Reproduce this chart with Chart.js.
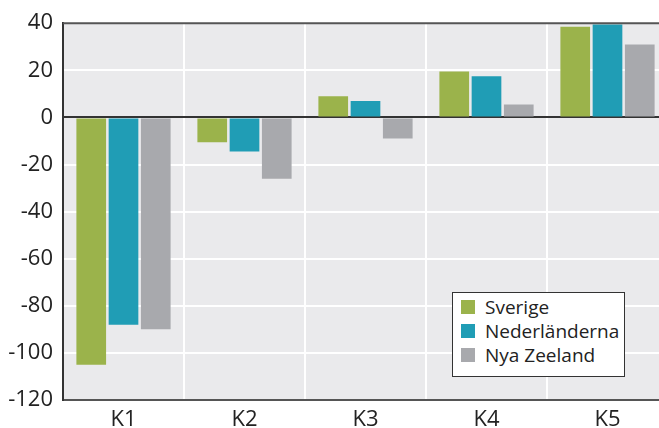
<!DOCTYPE html>
<html>
<head>
<meta charset="utf-8">
<script src="https://cdn.jsdelivr.net/npm/chart.js@4"></script>
<style>
html, body { margin: 0; padding: 0; background: #fff; overflow: hidden; }
#wrap { position: relative; width: 668px; height: 428px; }
#legend {
    position: absolute; left: 452px; top: 292px; width: 171px; height: 81px;
    border: 1px solid #333; background: #fff; box-sizing: content-box;
    font-family: "Open Sans", sans-serif; font-size: 19px; color: #222;
    padding-top: 2px;
}
.item { height: 24px; line-height: 24px; position: relative; padding-left: 32px; }
.item span { position: absolute; left: 8px; top: 5px; width: 14px; height: 14px; }
</style>
</head>
<body>
<div id="wrap">
<canvas id="myChart" width="668" height="428"></canvas>
<div id="legend"></div>
</div>
<script>
// data
const categories = ["K1", "K2", "K3", "K4", "K5"];
const seriesNames = ["Sverige", "Nederländerna", "Nya Zeeland"];
const sverige = [-105, -10.5, 9, 19.5, 38.5];
const nederlanderna = [-88, -14.5, 7, 17.5, 39.5];
const nyaZeeland = [-90, -26, -9, 5.5, 31];
const yTicks = [40, 20, 0, -20, -40, -60, -80, -100, -120];
const colors = ["#9bb34b", "#209db5", "#a8a9ad"];

const dark = "#333";

// grey plot background + top border line
const plotBg = {
    id: "plotBg",
    beforeDraw: (chart) => {
        const a = chart.chartArea;
        const ctx = chart.ctx;
        ctx.save();
        ctx.fillStyle = "#eaeaec";
        ctx.fillRect(a.left, a.top, a.right - a.left, a.bottom - a.top);
        ctx.restore();
    },
    afterDraw: (chart) => {
        const a = chart.chartArea;
        const ctx = chart.ctx;
        ctx.save();
        ctx.strokeStyle = "#555";
        ctx.lineWidth = 2;
        ctx.beginPath();
        ctx.moveTo(a.left, a.top);
        ctx.lineTo(a.right, a.top);
        ctx.stroke();
        ctx.restore();
    }
};

const ctx = document.getElementById("myChart").getContext("2d");
const allData = [sverige, nederlanderna, nyaZeeland];
const myChart = new Chart(ctx, {
    type: "bar",
    data: {
        labels: categories,
        datasets: seriesNames.map((name, i) => ({
            label: name,
            data: allData[i],
            backgroundColor: colors[i],
            borderWidth: 0,
            categoryPercentage: 0.8,
            barPercentage: 0.92
        }))
    },
    options: {
        responsive: false,
        animation: false,
        layout: { padding: { top: 21, right: 0, left: 0, bottom: 0 } },
        plugins: { legend: { display: false }, tooltip: { enabled: false } },
        scales: {
            x: {
                grid: {
                    offset: true,
                    drawTicks: false,
                    color: (c) => c.index === 0 ? "rgba(0,0,0,0)" : "#ffffff",
                    lineWidth: 2
                },
                border: { color: "#555", width: 2 },
                ticks: {
                    color: "#222",
                    padding: 7,
                    font: { family: "Open Sans", size: 22 }
                },
                afterFit: (scale) => { scale.height = 28; }
            },
            y: {
                min: -120,
                max: 40,
                afterBuildTicks: (scale) => { scale.ticks = yTicks.map(v => ({ value: v })); },
                grid: {
                    drawTicks: false,
                    color: (c) => c.tick && c.tick.value === 0 ? dark : "#ffffff",
                    lineWidth: 2
                },
                border: { color: dark, width: 2 },
                ticks: {
                    color: "#222",
                    padding: 10,
                    font: { family: "Open Sans", size: 22 }
                },
                afterFit: (scale) => { scale.width = 63; }
            }
        }
    },
    plugins: [plotBg]
});

// legend as html
const legend = document.getElementById("legend");
seriesNames.forEach((name, i) => {
    legend.innerHTML += '<div class="item"><span style="background:' + colors[i] + '"></span>' + name + '</div>';
});
</script>
</body>
</html>
